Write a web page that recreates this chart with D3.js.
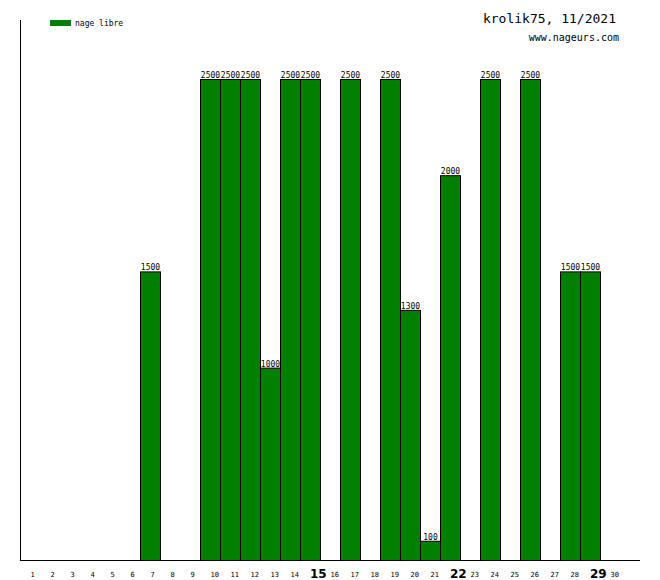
<!DOCTYPE html>
<html><head><meta charset="utf-8">
<script src="https://cdn.jsdelivr.net/npm/d3@7"></script>
<style>body{margin:0;background:#fff}svg{display:block}</style>
</head><body>
<script>
const days = d3.range(1, 31);
const values = [0,0,0,0,0,0,1500,0,0,2500,2500,2500,1000,2500,2500,0,2500,0,2500,1300,100,2000,0,2500,0,2500,0,1500,1500,0];
const boldDays = [15, 22, 29];
const seriesName = "nage libre";
const title = "krolik75, 11/2021";
const subtitle = "www.nageurs.com";

const W = 660, H = 580;
const svg = d3.select("body").append("svg").attr("width", W).attr("height", H);
const mono = "'DejaVu Sans Mono', monospace";

const x = d3.scaleLinear().domain([0, 31]).range([20, 640]);
const y = d3.scaleLinear().domain([0, 2500]).range([560, 79]);

// bars
const data = days.map((d, i) => ({day: d, v: values[i]})).filter(d => d.v > 0);
svg.selectAll("rect.bar").data(data).enter().append("rect")
  .attr("x", d => x(d.day - 1) + 0.5)
  .attr("y", d => y(d.v) + 0.5)
  .attr("width", d => x(d.day) - x(d.day - 1))
  .attr("height", d => y(0) - y(d.v))
  .attr("fill", "#007f00").attr("stroke", "#000").attr("stroke-width", 1);

svg.selectAll("text.val").data(data).enter().append("text")
  .attr("x", d => x(d.day - 0.5) + 0.5)
  .attr("y", d => y(d.v) - 1)
  .attr("text-anchor", "middle")
  .attr("font-family", mono).attr("font-size", 8).attr("fill", "#000")
  .text(d => d.v);

// axes lines
svg.append("line").attr("x1", 20.5).attr("x2", 20.5).attr("y1", 20).attr("y2", 560.5).attr("stroke", "#000");
svg.append("line").attr("x1", 20).attr("x2", 640).attr("y1", 560.5).attr("y2", 560.5).attr("stroke", "#000");

// day labels
svg.selectAll("text.day").data(days).enter().append("text")
  .attr("x", d => boldDays.includes(d) ? x(d - 1) + 10 : x(d - 1) + 10.5)
  .attr("y", d => boldDays.includes(d) ? 578 : 577)
  .attr("font-family", d => boldDays.includes(d) ? "'DejaVu Sans', sans-serif" : mono)
  .attr("font-weight", d => boldDays.includes(d) ? "bold" : "normal")
  .attr("font-size", d => boldDays.includes(d) ? 12 : 7)
  .attr("fill", "#000")
  .text(d => d);

// legend
svg.append("rect").attr("x", 50).attr("y", 20).attr("width", 21).attr("height", 6).attr("fill", "#007f00");
svg.append("text").attr("x", 75).attr("y", 25.5).attr("font-family", mono).attr("font-size", 8).text(seriesName);

// titles
svg.append("text").attr("x", 616).attr("y", 23).attr("text-anchor", "end")
  .attr("font-family", mono).attr("font-size", 13).text(title);
svg.append("text").attr("x", 619).attr("y", 41).attr("text-anchor", "end")
  .attr("font-family", mono).attr("font-size", 10).text(subtitle);
</script>
</body></html>
